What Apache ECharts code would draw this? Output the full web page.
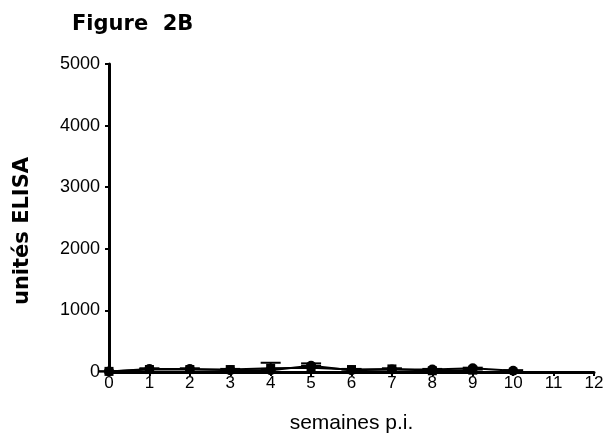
<!DOCTYPE html>
<html><head><meta charset="utf-8">
<script src="https://cdn.jsdelivr.net/npm/echarts@6/dist/echarts.min.js"></script>
<style>html,body{margin:0;padding:0;background:#fff}#c{width:615px;height:439px}</style>
</head><body><div id="c"></div>
<script>
var weeks = [0,1,2,3,4,5,6,7,8,9,10];
var circleVals = [10,50,50,30,30,100,30,40,40,60,20];
var circleErr  = [0,10,10,0,20,40,10,10,10,10,10];
var squareWeeks = [0,1,2,3,4,5,6,7,8,9];
var squareVals = [10,40,40,40,60,70,40,50,20,30];
var squareErr  = [0,10,10,10,90,30,10,10,10,10];
var xTicks = [0,1,2,3,4,5,6,7,8,9,10,11,12];
var yTicks = [0,1000,2000,3000,4000,5000];

function pairs(xs, ys){ return xs.map(function(x,i){return [x, ys[i]];}); }
function errData(xs, ys, es){ return xs.map(function(x,i){return [x, ys[i]-es[i], ys[i]+es[i]];}); }
function errSeries(data){
  return {type:'custom', data:data, z:1, silent:true,
    renderItem:function(params, api){
      var x = api.value(0);
      var lo = api.coord([x, api.value(1)]);
      var hi = api.coord([x, api.value(2)]);
      var hw = 10;
      var st = {stroke:'#000', lineWidth:2};
      return {type:'group', children:[
        {type:'line', shape:{x1:lo[0],y1:lo[1],x2:hi[0],y2:hi[1]}, style:st},
        {type:'line', shape:{x1:hi[0]-hw,y1:hi[1],x2:hi[0]+hw,y2:hi[1]}, style:st}
      ]};
    }};
}
var chart = echarts.init(document.getElementById('c'), null, {renderer:'canvas'});
var font = 'Liberation Sans, Arial, sans-serif';
var boldFont = 'DejaVu Sans, sans-serif';
chart.setOption({
  animation:false,
  title:{text:'Figure  2B', left:67, top:9, textStyle:{fontFamily:boldFont, fontSize:21, fontWeight:'bold', color:'#000'}},
  grid:{left:109, right:21, top:64, bottom:64, containLabel:false},
  xAxis:{type:'value', min:xTicks[0], max:xTicks[xTicks.length-1], interval:1,
    name:'semaines p.i.', nameLocation:'middle', nameGap:41,
    nameTextStyle:{fontFamily:font, fontSize:21, color:'#000'},
    axisLine:{lineStyle:{color:'#000', width:3}},
    axisTick:{show:true, length:4, lineStyle:{color:'#000', width:2}},
    axisLabel:{fontFamily:font, fontSize:17, color:'#000', margin:3},
    splitLine:{show:false}},
  yAxis:{type:'value', min:yTicks[0], max:yTicks[yTicks.length-1], interval:1000,
    name:'unités ELISA', nameLocation:'middle', nameGap:76,
    nameTextStyle:{fontFamily:boldFont, fontSize:21, fontWeight:'bold', color:'#000', padding:[0,26,0,0]},
    axisLine:{show:true, lineStyle:{color:'#000', width:3}},
    axisTick:{show:true, length:4, lineStyle:{color:'#000', width:2}},
    axisLabel:{fontFamily:font, fontSize:18, color:'#000', margin:9, formatter:function(v){return String(v);}},
    splitLine:{show:false}},
  series:[
    errSeries(errData(weeks, circleVals, circleErr)),
    errSeries(errData(squareWeeks, squareVals, squareErr)),
    {type:'line', data:pairs(weeks, circleVals), symbol:'circle', symbolSize:10,
      lineStyle:{color:'#000', width:2}, itemStyle:{color:'#000'}, z:3},
    {type:'line', data:pairs(squareWeeks, squareVals), symbol:'rect', symbolSize:9,
      lineStyle:{color:'#000', width:2}, itemStyle:{color:'#000'}, z:3}
  ]
});
</script></body></html>
